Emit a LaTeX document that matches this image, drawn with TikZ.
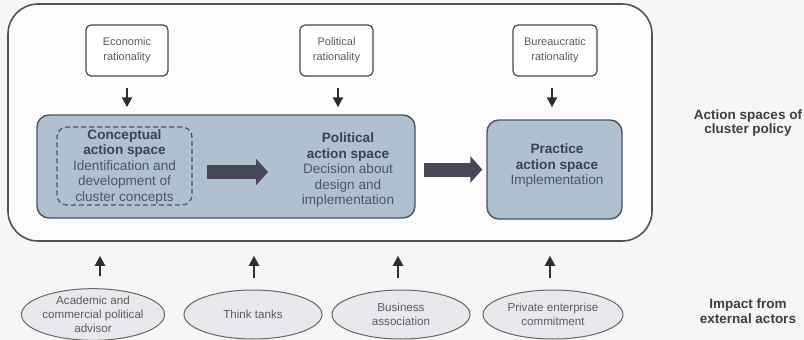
\documentclass[tikz,border=0pt]{standalone}
\usepackage{fontspec}
\setmainfont{Liberation Sans}
\usetikzlibrary{arrows.meta,shapes.geometric}
\definecolor{bgc}{HTML}{F6F6F6}
\definecolor{boxfill}{HTML}{FCFCFC}
\definecolor{edge}{HTML}{4E5260}
\definecolor{bluefill}{HTML}{AFC0D0}
\definecolor{bluetxt}{HTML}{4F5462}
\definecolor{titletxt}{HTML}{3E424C}
\definecolor{arrowc}{HTML}{464657}
\definecolor{ellfill}{HTML}{E8E9ED}
\definecolor{graytxt}{HTML}{5A5A5A}
\definecolor{labtxt}{HTML}{3E3E3E}
\begin{document}
\begin{tikzpicture}[x=1pt,y=-1pt,
  outerbox/.style={draw=edge, line width=1.6pt, fill=boxfill, rounded corners=30pt,
    minimum width=644pt, minimum height=237pt, inner sep=0pt},
  ratbox/.style={draw=black!72, line width=1.2pt, fill=white, rounded corners=5pt,
    minimum height=51pt, inner sep=0pt, align=center,
    font=\fontsize{11}{15}\selectfont, text=graytxt},
  spacebox/.style={draw=edge, line width=1.4pt, fill=bluefill, rounded corners=12pt, inner sep=0pt},
  dashbox/.style={draw=edge, line width=1.2pt, dash pattern=on 5pt off 3pt,
    rounded corners=10pt, inner sep=0pt},
  spacetxt/.style={align=center, text=bluetxt, font=\fontsize{13.6}{15.5}\selectfont},
  flow/.style={draw=arrowc, line width=14pt, -{Triangle[length=12pt,width=26pt]}},
  smallarr/.style={draw=black!82, line width=2.2pt, -{Triangle[length=10pt,width=10pt]}},
  actor/.style={ellipse, draw=black!60, line width=1pt, fill=ellfill, inner sep=0pt,
    minimum height=49pt, align=center, text=graytxt, font=\fontsize{11.6}{14}\selectfont},
  sidelab/.style={align=center, text=labtxt, font=\fontsize{13.5}{14.5}\selectfont\bfseries}
]
\useasboundingbox (0,0) rectangle (804,340);
\fill[bgc] (0,0) rectangle (804,340);

\node[outerbox] (outer) at (330,122.5) {};

\node[ratbox, minimum width=82pt] (econ) at (127,50.5) {Economic\\rationality};
\node[ratbox, minimum width=73pt] (polr) at (336.5,50.5) {Political\\rationality};
\node[ratbox, minimum width=84pt] (bur) at (555,50.5) {Bureaucratic\\rationality};

\node[spacebox, minimum width=378pt, minimum height=103pt] (pol) at (226,166.5) {};
\node[dashbox, minimum width=135pt, minimum height=78pt] (con) at (124.5,166) {};
\node[spacebox, minimum width=135pt, minimum height=99pt] (prac) at (554.5,169.5) {};

\node[spacetxt] (contxt) at (124.5,166.5) {\textcolor{titletxt}{\bfseries Conceptual}\\\textcolor{titletxt}{\bfseries action space}\\Identification and\\development of\\cluster concepts};
\node[spacetxt] (poltxt) at (348,170) {\textcolor{titletxt}{\bfseries Political}\\\textcolor{titletxt}{\bfseries action space}\\Decision about\\design and\\implementation};
\node[spacetxt] (practxt) at (557,165.5) {\textcolor{titletxt}{\bfseries Practice}\\\textcolor{titletxt}{\bfseries action space}\\Implementation};

\coordinate (f1a) at (207,172);
\coordinate (f1b) at (268,172);
\draw[flow] (f1a) -- (f1b);
\draw[flow] ([xshift=8pt]pol.east |- prac.west) -- ([xshift=-4pt]prac.west);

\draw[smallarr] ([yshift=-11pt]econ.south) -- ([yshift=7pt]econ.south |- pol.north);
\draw[smallarr] ([yshift=-11pt,xshift=1.5pt]polr.south) -- ([yshift=7pt,xshift=1.5pt]polr.south |- pol.north);
\draw[smallarr] ([yshift=-11pt,xshift=-3pt]bur.south) -- ([yshift=12pt,xshift=-3pt]bur.south |- prac.north);

\node[actor, minimum width=127pt] (e1) at (93,314.5) {Academic and\\commercial political\\advisor};
\node[actor, minimum width=138pt] (e2) at (253,314.5) {Think tanks};
\node[actor, minimum width=138pt] (e3) at (401,314.5) {Business\\association};
\node[actor, minimum width=140pt] (e4) at (553,314.5) {Private enterprise\\commitment};

\draw[smallarr] ([xshift=7pt,yshift=12pt]e1.north) -- ([xshift=7pt,yshift=-14pt]e1.north |- outer.south);
\draw[smallarr] ([xshift=1pt,yshift=12pt]e2.north) -- ([xshift=1pt,yshift=-14pt]e2.north |- outer.south);
\draw[smallarr] ([xshift=-3pt,yshift=12pt]e3.north) -- ([xshift=-3pt,yshift=-14pt]e3.north |- outer.south);
\draw[smallarr] ([xshift=-3pt,yshift=12pt]e4.north) -- ([xshift=-3pt,yshift=-14pt]e4.north |- outer.south);

\node[sidelab] (lab1) at (748,123) {Action spaces of\\cluster policy};
\node[sidelab] (lab2) at (748,311) {Impact from\\external actors};
\end{tikzpicture}
\end{document}
